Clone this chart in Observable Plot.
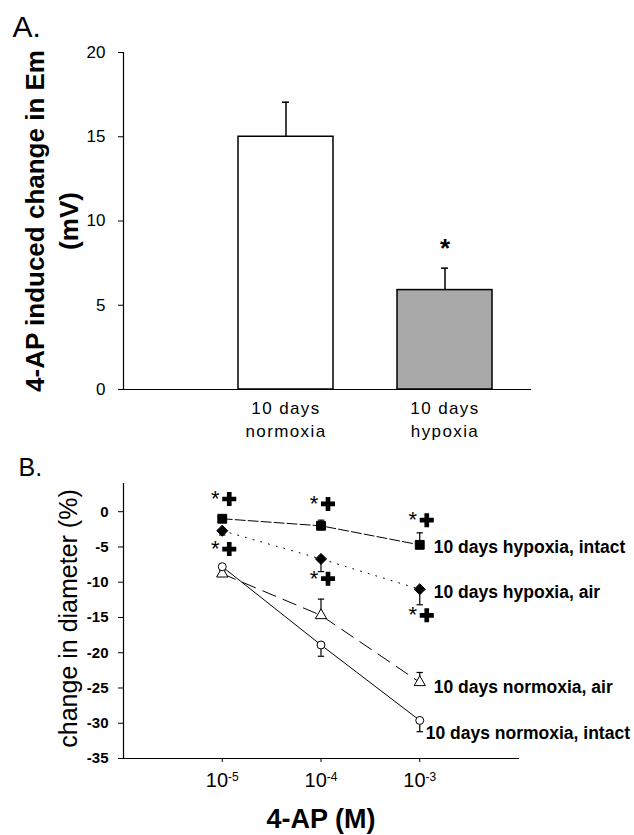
<!DOCTYPE html>
<html><head><meta charset="utf-8">
<script src="https://cdn.jsdelivr.net/npm/d3@7"></script>
<script src="https://cdn.jsdelivr.net/npm/@observablehq/plot@0.6"></script>
<style>
body{margin:0;background:#fff;}
#chart{width:634px;}
#chart svg{display:block;}
</style></head><body><div id="chart"></div>
<script>
// ---------- Panel A data ----------
const categories = ["10 days\nnormoxia", "10 days\nhypoxia"];
const meanEm = [15.0, 5.9];
const semEm = [2.05, 1.3];
const significantA = [false, true];
const yTicksA = [0, 5, 10, 15, 20];

// ---------- Panel B data ----------
const concentrations = [1e-5, 1e-4, 1e-3];
const xTickBase = "10";
const xTickExponents = ["-5", "-4", "-3"];
const seriesNames = ["10 days hypoxia, intact", "10 days hypoxia, air", "10 days normoxia, air", "10 days normoxia, intact"];
const hypoxiaIntact = [-1.0, -2.0, -4.7];
const hypoxiaIntactErr = [0.4, 0.8, 1.7];
const hypoxiaAir = [-2.7, -6.7, -11.0];
const hypoxiaAirErr = [0.6, 1.8, 2.2];
const normoxiaAir = [-8.8, -14.7, -24.2];
const normoxiaAirErr = [0.4, 2.3, 1.4];
const normoxiaIntact = [-7.8, -18.9, -29.6];
const normoxiaIntactErr = [0.4, 1.6, 1.6];
const labelY = [-5.0, -11.5, -24.9, -31.4];
const sigTop = [1.8, 1.1, -1.2];
const sigBottom = [-5.3, -9.5, -14.7];
const yTicksB = [-35, -30, -25, -20, -15, -10, -5, 0];

const FONT = "'Liberation Sans', Arial, sans-serif";

// ---------- Panel A ----------
const dataA = categories.map((c, i) => ({cat: c, mean: meanEm[i], sem: semEm[i], sig: significantA[i]}));
const fillsA = ["white", "#a9a9a9"];

const plotA = Plot.plot({
  width: 634, height: 445,
  marginLeft: 123, marginRight: 104, marginTop: 52, marginBottom: 56,
  style: {fontFamily: FONT, color: "black", background: "white", overflow: "visible"},
  x: {domain: categories, paddingInner: 0.4, paddingOuter: 0.472, align: 0.755},
  y: {domain: [0, 20]},
  color: {type: "identity"},
  marks: [
    Plot.ruleX(dataA, {x: "cat", y1: "mean", y2: d => d.mean + d.sem, strokeWidth: 1.5}),
    Plot.tickY(dataA, {x: "cat", y: d => d.mean + d.sem, insetLeft: 44, insetRight: 44, strokeWidth: 1.5}),
    Plot.barY(dataA, {x: "cat", y: "mean", fill: (d, i) => fillsA[i], stroke: "black", strokeWidth: 1.5}),
    Plot.text(dataA.filter(d => d.sig), {x: "cat", y: d => d.mean + d.sem, text: () => "*", dy: -20, fontSize: 26, fontWeight: "bold"}),
    Plot.frame({anchor: "left", strokeWidth: 1.2}),
    Plot.frame({anchor: "bottom", strokeWidth: 1.2}),
    Plot.axisY({ticks: yTicksA, tickFormat: d => String(d), tickSize: 5, tickPadding: 13, fontSize: 17, label: null}),
    Plot.axisX({tickSize: 0, tickPadding: 7, fontSize: 17, lineHeight: 1.41, label: null}),
    Plot.text(["4-AP induced change in Em\n(mV)"], {frameAnchor: "left", textAnchor: "middle", lineAnchor: "middle", rotate: -90, dx: -73, fontSize: 26, fontWeight: "bold", lineHeight: 1.3}),
    Plot.text(["A."], {frameAnchor: "top-left", dx: -111, dy: -37, textAnchor: "start", lineAnchor: "top", fontSize: 30})
  ]
});
d3.select(plotA).selectAll('g[aria-label="x-axis tick label"]').style("letter-spacing", "1.4px");

// ---------- Panel B ----------
const values = [hypoxiaIntact, hypoxiaAir, normoxiaAir, normoxiaIntact];
const errors = [hypoxiaIntactErr, hypoxiaAirErr, normoxiaAirErr, normoxiaIntactErr];
const styles = [
  {symbol: "square", fill: "black", r: 5, dash: "10,3", dir: 1, labelDx: 14},
  {symbol: "diamond2", fill: "black", r: 5, dash: "1,7", dir: -1, labelDx: 14},
  {symbol: "triangle", fill: "white", r: 4.2, dash: "14,8", dir: 1, labelDx: 14},
  {symbol: "circle", fill: "white", r: 4, dash: null, dir: -1, labelDx: 6}
];
const capSymbol = {draw(context, size) { const w = Math.sqrt(size) / 2; context.moveTo(-w, 0); context.lineTo(w, 0); }};

const marksB = [];
seriesNames.forEach((name, s) => {
  const st = styles[s];
  const rows = concentrations.map((c, i) => ({conc: c, value: values[s][i], err: values[s][i] + st.dir * errors[s][i]}));
  marksB.push(Plot.line(rows, {x: "conc", y: "value", stroke: "black", strokeWidth: 1, strokeDasharray: st.dash}));
  marksB.push(Plot.ruleX(rows, {x: "conc", y1: "value", y2: "err", stroke: "black", strokeWidth: 1.2}));
  marksB.push(Plot.dot(rows, {x: "conc", y: "err", symbol: capSymbol, r: 3.6, stroke: "black", strokeWidth: 1.2, fill: "none"}));
  marksB.push(Plot.dot(rows, {x: "conc", y: "value", symbol: st.symbol, r: st.r, fill: st.fill, stroke: "black", strokeWidth: 1}));
  marksB.push(Plot.text([name], {x: () => concentrations[2], y: () => labelY[s], dx: st.labelDx, textAnchor: "start", fontSize: 17.5, fontWeight: "bold"}));
});
const sigRows = concentrations.flatMap((c, i) => [{conc: c, y: sigTop[i]}, {conc: c, y: sigBottom[i]}]);
marksB.push(Plot.dot(sigRows, {x: "conc", y: "y", symbol: "cross", r: 5.9, fill: "black", dx: 7}));
marksB.push(Plot.text(sigRows, {x: "conc", y: "y", text: () => "*", dx: -7, fontSize: 22}));

const plotB = Plot.plot({
  width: 634, height: 390,
  marginLeft: 123, marginRight: 116, marginTop: 38, marginBottom: 77,
  style: {fontFamily: FONT, color: "black", background: "white", overflow: "visible"},
  x: {type: "log", domain: [1e-6, 1e-2]},
  y: {domain: [-35, 4]},
  marks: [
    Plot.frame({anchor: "left", strokeWidth: 1.2}),
    Plot.frame({anchor: "bottom", strokeWidth: 1.2}),
    Plot.axisY({ticks: yTicksB, tickFormat: d => String(d), tickSize: 5, tickPadding: 10, fontSize: 15, fontWeight: "bold", label: null}),
    Plot.axisX({ticks: concentrations, tickFormat: d => xTickBase, tickSize: 4, tickPadding: 10, fontSize: 21, label: null}),
    ...marksB,
    Plot.text(["change in diameter (%)"], {frameAnchor: "left", textAnchor: "middle", lineAnchor: "middle", rotate: -90, dx: -55, dy: -2.5, fontSize: 25}),
    Plot.text(["4-AP (M)"], {frameAnchor: "bottom", textAnchor: "middle", dy: 50, lineAnchor: "top", fontSize: 27, fontWeight: "bold"}),
    Plot.text(["B."], {frameAnchor: "top-left", dx: -105, dy: -25, textAnchor: "start", lineAnchor: "top", fontSize: 25})
  ]
});
// superscript exponents on the log-axis tick labels
d3.select(plotB).selectAll('g[aria-label="x-axis tick label"]').attr("font-size", 20).style("font-size", "20px");
d3.select(plotB).selectAll('g[aria-label="x-axis tick label"] text').each(function(d, i) {
  const t = d3.select(this);
  t.style("font-size", "20px");
  t.append("tspan").attr("dy", "-0.45em").style("font-size", "12px").text(xTickExponents[i]);
});

const chart = document.getElementById("chart");
chart.appendChild(plotA);
chart.appendChild(plotB);
</script></body></html>
